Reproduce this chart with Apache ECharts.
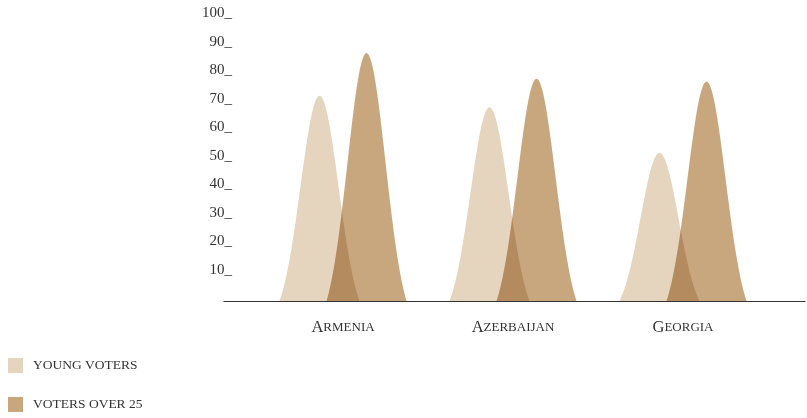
<!DOCTYPE html>
<html>
<head>
<meta charset="utf-8">
<script src="https://cdn.jsdelivr.net/npm/echarts@6/dist/echarts.min.js"></script>
<style>html,body{margin:0;padding:0;background:#fff}#c{width:807px;height:418px}</style>
</head>
<body>
<div id="c"></div>
<script>
var categories = ['Armenia', 'Azerbaijan', 'Georgia'];
var seriesNames = ['young voters', 'voters over 25'];
var youngVoters = [72, 68, 52];
var votersOver25 = [87, 78, 77];
var yTickLabels = ['', '10', '20', '30', '40', '50', '60', '70', '80', '90', '100'];

var FONT = '"Liberation Serif", "DejaVu Serif", serif';
var TEXT = '#333333';
var colors = ['#e5d5bf', '#c8a77e'];

function bellRenderer(offsetFrac) {
  return function (params, api) {
    var ci = api.value(0), v = api.value(1);
    var base = api.coord([ci, 0]);
    var top = api.coord([ci, v]);
    var band = api.size([1, 0])[0];
    var cx = base[0] + band * offsetFrac;
    var hw = band * 40 / 170;
    var h = base[1] - top[1];
    var k = 2.1, e0 = Math.exp(-k * k / 2);
    var pts = [];
    var N = 80;
    for (var i = 0; i <= N; i++) {
      var t = -1 + 2 * i / N;
      var g = Math.exp(-(t * k) * (t * k) / 2);
      pts.push([cx + t * hw, base[1] - h * (g - e0) / (1 - e0)]);
    }
    return {
      type: 'polygon',
      shape: { points: pts },
      style: { fill: api.visual('color') }
    };
  };
}

var chart = echarts.init(document.getElementById('c'), null, { renderer: 'canvas' });
chart.setOption({
  backgroundColor: '#ffffff',
  animation: false,
  color: colors,
  legend: {
    orient: 'vertical',
    left: 8,
    top: 358,
    padding: 0,
    itemWidth: 15,
    itemHeight: 15,
    itemGap: 24,
    icon: 'rect',
    data: seriesNames,
    formatter: function (n) { return n.toUpperCase(); },
    textStyle: { fontFamily: FONT, fontSize: 13.5, color: TEXT, padding: [0, 0, 0, 5] }
  },
  grid: [
    { left: 224, right: 2, top: 16, bottom: 117 },
    { left: 258, right: 39, top: 16, bottom: 117 }
  ],
  xAxis: [
    {
      gridIndex: 0, type: 'value', min: 0, max: 1,
      axisLine: { show: true, onZero: false, lineStyle: { color: '#333', width: 1.2 } },
      axisTick: { show: false }, axisLabel: { show: false }, splitLine: { show: false }
    },
    {
      gridIndex: 1, type: 'category', data: categories,
      axisLine: { show: false }, axisTick: { show: false }, splitLine: { show: false },
      axisLabel: {
        margin: 18,
        formatter: function (v) { return '{cap|' + v[0] + '}{sc|' + v.slice(1).toUpperCase() + '}'; },
        rich: {
          cap: { fontFamily: FONT, fontSize: 16.5, color: TEXT },
          sc: { fontFamily: FONT, fontSize: 13, color: TEXT }
        }
      }
    }
  ],
  yAxis: [
    {
      gridIndex: 0, type: 'value', min: 0, max: 100, interval: 10,
      axisLine: { show: false }, axisTick: { show: false }, splitLine: { show: false },
      axisLabel: {
        margin: -8,
        verticalAlign: 'bottom',
        lineHeight: 5,
        fontFamily: FONT, fontSize: 15, color: TEXT,
        formatter: function (v) { var s = yTickLabels[Math.round(v / 10)]; return s ? s + '_' : ''; }
      }
    },
    {
      gridIndex: 1, type: 'value', min: 0, max: 100, show: false
    }
  ],
  series: [
    {
      name: seriesNames[0], type: 'custom', xAxisIndex: 1, yAxisIndex: 1,
      blendMode: 'multiply',
      renderItem: bellRenderer(-23.5 / 170),
      itemStyle: { color: colors[0] },
      data: categories.map(function (c, i) { return [i, youngVoters[i]]; })
    },
    {
      name: seriesNames[1], type: 'custom', xAxisIndex: 1, yAxisIndex: 1,
      blendMode: 'multiply',
      renderItem: bellRenderer(23.5 / 170),
      itemStyle: { color: colors[1] },
      data: categories.map(function (c, i) { return [i, votersOver25[i]]; })
    }
  ]
});
</script>
</body>
</html>
